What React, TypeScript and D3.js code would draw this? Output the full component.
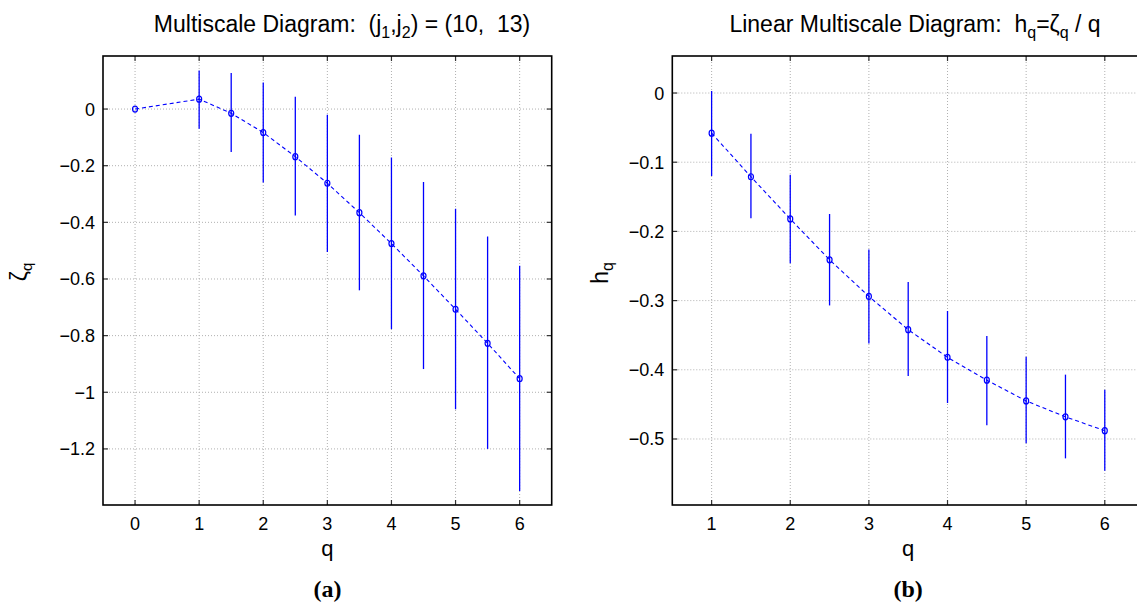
import React from "react";
import * as d3 from "d3";

// ---- Data: panel (a) ----
const qA = [0, 1, 1.5, 2, 2.5, 3, 3.5, 4, 4.5, 5, 5.5, 6];
const zeta = [0, 0.035, -0.015, -0.083, -0.168, -0.262, -0.366, -0.475, -0.589, -0.707, -0.827, -0.952];
const zetaHi = [0, 0.136, 0.127, 0.094, 0.043, -0.02, -0.091, -0.171, -0.258, -0.352, -0.45, -0.553];
const zetaLo = [0, -0.07, -0.152, -0.259, -0.376, -0.505, -0.64, -0.777, -0.918, -1.06, -1.2, -1.349];
const xTicksA = [0, 1, 2, 3, 4, 5, 6];
const yTicksA = [0, -0.2, -0.4, -0.6, -0.8, -1, -1.2];

// ---- Data: panel (b) ----
const qB = [1, 1.5, 2, 2.5, 3, 3.5, 4, 4.5, 5, 5.5, 6];
const hq = [-0.058, -0.121, -0.182, -0.241, -0.294, -0.342, -0.382, -0.415, -0.445, -0.468, -0.488];
const hqHi = [0.003, -0.059, -0.118, -0.175, -0.226, -0.273, -0.315, -0.351, -0.381, -0.407, -0.429];
const hqLo = [-0.12, -0.181, -0.246, -0.307, -0.362, -0.409, -0.448, -0.48, -0.506, -0.528, -0.546];
const xTicksB = [1, 2, 3, 4, 5, 6];
const yTicksB = [0, -0.1, -0.2, -0.3, -0.4, -0.5];

const SANS = "'Liberation Sans', Arial, sans-serif";
const SERIF = "'Liberation Serif', 'Times New Roman', serif";
const BLUE = "#0000ff";

const fmt = (v: number) => (v < 0 ? "\u2212" + String(Math.abs(v)) : String(v));

type PanelProps = {
  q: number[];
  v: number[];
  hi: number[];
  lo: number[];
  xDomain: [number, number];
  yDomain: [number, number];
  xRange: [number, number];
  yRange: [number, number];
  xTicks: number[];
  yTicks: number[];
  clipId: string;
};

function Panel(p: PanelProps) {
  const x = d3.scaleLinear().domain(p.xDomain).range(p.xRange);
  const y = d3.scaleLinear().domain(p.yDomain).range(p.yRange);
  const [x0, x1] = p.xRange;
  const [yb, yt] = p.yRange;
  const line = d3
    .line<number>()
    .x((_, i) => x(p.q[i]))
    .y((d) => y(d));
  const tl = 5;
  return (
    <g>
      <defs>
        <clipPath id={p.clipId}>
          <rect x={x0} y={yt} width={x1 - x0} height={yb - yt} />
        </clipPath>
      </defs>
      {/* grid */}
      {p.xTicks.map((t) => (
        <line key={"gx" + t} x1={x(t)} x2={x(t)} y1={yt} y2={yb} stroke="#b0b0b0" strokeWidth={1} strokeDasharray="1,2" />
      ))}
      {p.yTicks.map((t) => (
        <line key={"gy" + t} x1={x0} x2={x1} y1={y(t)} y2={y(t)} stroke="#b0b0b0" strokeWidth={1} strokeDasharray="1,2" />
      ))}
      {/* ticks */}
      {p.xTicks.map((t) => (
        <g key={"tx" + t}>
          <line x1={x(t)} x2={x(t)} y1={yb} y2={yb - tl} stroke="#333" strokeWidth={1.2} />
          <line x1={x(t)} x2={x(t)} y1={yt} y2={yt + tl} stroke="#333" strokeWidth={1.2} />
          <text x={x(t)} y={yb + 25} textAnchor="middle" fontFamily={SANS} fontSize={18} fill="#000">
            {fmt(t)}
          </text>
        </g>
      ))}
      {p.yTicks.map((t) => (
        <g key={"ty" + t}>
          <line x1={x0} x2={x0 + tl} y1={y(t)} y2={y(t)} stroke="#333" strokeWidth={1.2} />
          <line x1={x1} x2={x1 - tl} y1={y(t)} y2={y(t)} stroke="#333" strokeWidth={1.2} />
          <text x={x0 - 8} y={y(t) + 6.5} textAnchor="end" fontFamily={SANS} fontSize={18} fill="#000">
            {fmt(t)}
          </text>
        </g>
      ))}
      <g clipPath={`url(#${p.clipId})`}>
        {/* error bars */}
        {p.q.map((qq, i) =>
          p.hi[i] !== p.lo[i] ? (
            <line key={"e" + i} x1={x(qq)} x2={x(qq)} y1={y(p.hi[i])} y2={y(p.lo[i])} stroke={BLUE} strokeWidth={1.3} />
          ) : null
        )}
        {/* dashed line */}
        <path d={line(p.v) || ""} fill="none" stroke={BLUE} strokeWidth={1.1} strokeDasharray="4,3" />
        {/* markers */}
        {p.q.map((qq, i) => (
          <ellipse key={"m" + i} cx={x(qq)} cy={y(p.v[i])} rx={2.5} ry={3} fill="none" stroke={BLUE} strokeWidth={1.2} />
        ))}
      </g>
      {/* box */}
      <rect x={x0} y={yt} width={x1 - x0} height={yb - yt} fill="none" stroke="#000" strokeWidth={1.6} />
    </g>
  );
}

export default function App() {
  return (
    <svg
      width={1137}
      height={603}
      style={{ position: "absolute", left: 0, top: 0, background: "#fff" }}
    >
      <rect x={0} y={0} width={1137} height={603} fill="#fff" />
      <Panel
        q={qA}
        v={zeta}
        hi={zetaHi}
        lo={zetaLo}
        xDomain={[-0.5, 6.5]}
        yDomain={[-1.398, 0.1873]}
        xRange={[103, 551.7]}
        yRange={[505, 56]}
        xTicks={xTicksA}
        yTicks={yTicksA}
        clipId="clipA"
      />
      <Panel
        q={qB}
        v={hq}
        hi={hqHi}
        lo={hqLo}
        xDomain={[0.5, 6.5]}
        yDomain={[-0.5954, 0.0535]}
        xRange={[672.3, 1144.1]}
        yRange={[505, 56]}
        xTicks={xTicksB}
        yTicks={yTicksB}
        clipId="clipB"
      />
      {/* titles */}
      <text x={342} y={32} textAnchor="middle" fontFamily={SANS} fontSize={23} fill="#000" style={{ whiteSpace: "pre" }}>
        {"Multiscale Diagram:  (j"}
        <tspan fontSize={16} dy={6}>1</tspan>
        <tspan dy={-6}>{",j"}</tspan>
        <tspan fontSize={16} dy={6}>2</tspan>
        <tspan dy={-6}>{") = (10,  13)"}</tspan>
      </text>
      <text x={915} y={32} textAnchor="middle" fontFamily={SANS} fontSize={23} fill="#000" style={{ whiteSpace: "pre" }}>
        {"Linear Multiscale Diagram:  h"}
        <tspan fontSize={16} dy={6}>q</tspan>
        <tspan dy={-6}>{"=\u03b6"}</tspan>
        <tspan fontSize={16} dy={6}>q</tspan>
        <tspan dy={-6}>{" / q"}</tspan>
      </text>
      {/* axis labels */}
      <text x={327.4} y={556} textAnchor="middle" fontFamily={SANS} fontSize={22} fill="#000">q</text>
      <text x={908.2} y={556} textAnchor="middle" fontFamily={SANS} fontSize={22} fill="#000">q</text>
      <text transform="translate(27,272) rotate(-90)" textAnchor="middle" fontFamily={SANS} fontSize={23} fill="#000">
        {"\u03b6"}
        <tspan fontSize={15} dy={5}>q</tspan>
      </text>
      <text transform="translate(608,273) rotate(-90)" textAnchor="middle" fontFamily={SANS} fontSize={23} fill="#000">
        {"h"}
        <tspan fontSize={16} dy={5}>q</tspan>
      </text>
      {/* panel letters */}
      <text x={327.4} y={597} textAnchor="middle" fontFamily={SERIF} fontWeight="bold" fontSize={24} fill="#000">(a)</text>
      <text x={908.2} y={597} textAnchor="middle" fontFamily={SERIF} fontWeight="bold" fontSize={24} fill="#000">(b)</text>
    </svg>
  );
}
